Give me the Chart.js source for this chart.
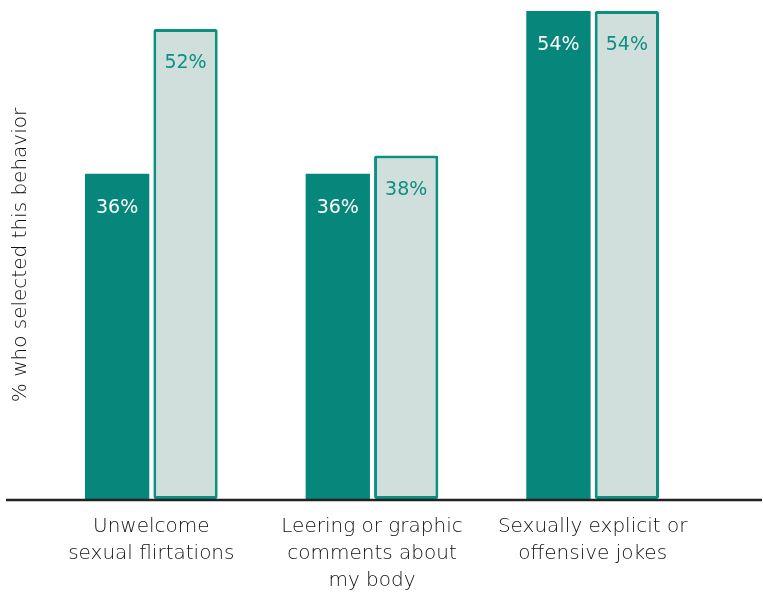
<!DOCTYPE html>
<html>
<head>
<meta charset="utf-8">
<script src="https://cdn.jsdelivr.net/npm/chart.js@4/dist/chart.umd.min.js"></script>
<style>
  html, body { margin: 0; padding: 0; background: #ffffff; }
  #wrap { width: 763px; height: 592px; position: relative; }
</style>
</head>
<body>
<div id="wrap"><canvas id="chart"></canvas></div>
<script>
// Behaviours asked about (multi-line category labels)
const categories = [
  ["Unwelcome", "sexual flirtations"],
  ["Leering or graphic", "comments about", "my body"],
  ["Sexually explicit or", "offensive jokes"]
];
// Share of respondents (%) for each group
const seriesA = [36, 36, 54];
const seriesB = [52, 38, 54];
const yTitle = "% who selected this behavior";

const TEAL = "#07877b";
const TEAL_BORDER = "#0c9082";
const PALE = "#d0dfdc";
const FONT = "'DejaVu Sans', sans-serif";

// Percentage labels placed inside the top of each bar
const valueLabels = {
  id: "valueLabels",
  afterDatasetsDraw(chart) {
    const ctx = chart.ctx;
    ctx.save();
    ctx.font = "400 19px " + FONT;
    ctx.textAlign = "center";
    ctx.textBaseline = "middle";
    chart.data.datasets.forEach((ds, i) => {
      const meta = chart.getDatasetMeta(i);
      meta.data.forEach((bar, j) => {
        ctx.fillStyle = i === 0 ? "#ffffff" : TEAL_BORDER;
        ctx.fillText(ds.data[j] + "%", bar.x, bar.y + 34);
      });
    });
    ctx.restore();
  }
};

// Dark baseline running across the full width at zero
const baseline = {
  id: "baseline",
  afterDatasetsDraw(chart) {
    const y = chart.scales.y.getPixelForValue(0) + 1;
    const ctx = chart.ctx;
    ctx.save();
    ctx.strokeStyle = "#222222";
    ctx.lineWidth = 2.6;
    ctx.beginPath();
    ctx.moveTo(6, y);
    ctx.lineTo(762, y);
    ctx.stroke();
    ctx.restore();
  }
};

new Chart(document.getElementById("chart"), {
  type: "bar",
  data: {
    labels: categories,
    datasets: [
      {
        data: seriesA,
        backgroundColor: TEAL,
        borderWidth: 0,
        barPercentage: 0.94,
        categoryPercentage: 0.62
      },
      {
        data: seriesB,
        backgroundColor: PALE,
        borderColor: TEAL_BORDER,
        borderWidth: 3,
        borderRadius: 2,
        borderSkipped: false,
        barPercentage: 0.94,
        categoryPercentage: 0.62
      }
    ]
  },
  options: {
    responsive: true,
    maintainAspectRatio: false,
    animation: false,
    layout: { padding: { top: 11, right: 60, left: 0, bottom: 0 } },
    plugins: {
      legend: { display: false },
      tooltip: { enabled: false }
    },
    scales: {
      x: {
        grid: { display: false, drawTicks: false },
        border: { display: false },
        ticks: {
          color: "#111111",
          font: { family: FONT, size: 20, weight: "200", lineHeight: 1.35 },
          padding: 14,
          maxRotation: 0,
          autoSkip: false
        },
        afterFit(scale) { scale.height = 93; }
      },
      y: {
        min: 0,
        max: 54,
        grid: { display: false, drawTicks: false },
        border: { display: false },
        ticks: { display: false },
        title: {
          display: true,
          text: yTitle,
          color: "#111111",
          font: { family: FONT, size: 20, weight: "200" },
          padding: { top: 9, bottom: 0 }
        },
        afterFit(scale) { scale.width = 41; }
      }
    }
  },
  plugins: [valueLabels, baseline]
});
</script>
</body>
</html>
